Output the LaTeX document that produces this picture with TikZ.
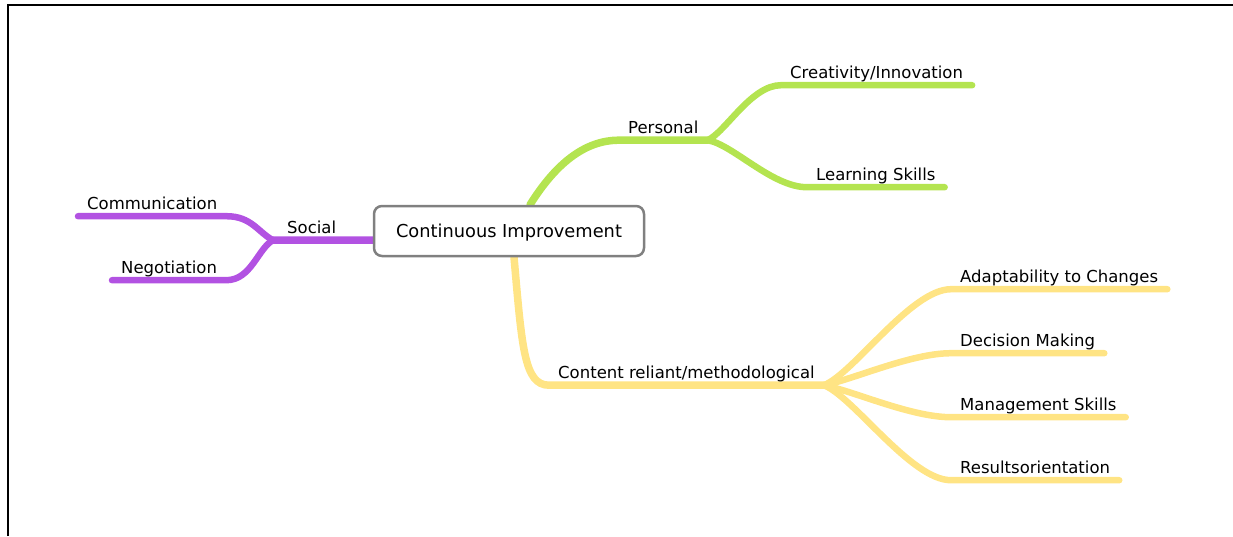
\documentclass[tikz,border=0pt]{standalone}
\usepackage{fontspec}
\setmainfont{DejaVu Sans}
\usetikzlibrary{backgrounds}
\definecolor{mmgreen}{RGB}{180,228,80}
\definecolor{mmpurple}{RGB}{178,82,226}
\definecolor{mmyellow}{RGB}{255,228,132}
\definecolor{mmgray}{RGB}{128,128,128}
\tikzset{
	x=1pt, y=-1pt, % one unit is one pixel, y grows downwards
	root/.style={draw=mmgray, line width=2.5pt, rounded corners=8pt, fill=white, text depth=0pt,
		minimum width=270pt, minimum height=50pt, font=\fontsize{17.8}{20}\selectfont}, % the central idea
	topic/.style={anchor=base west, inner xsep=9pt, inner ysep=7pt, text depth=0pt,
		font=\fontsize{16.5}{19}\selectfont}, % label sitting on its branch
	branch/.style={line width=6.5pt, line cap=round}, % the coloured lines
	trunk/.style={branch, line width=7.5pt}, % first level lines are a bit thicker
}
\begin{document}
\begin{tikzpicture}
	\useasboundingbox (0,0) rectangle (1233,536);
	\draw[line width=2pt] (8,536) -- (8,5) -- (1233,5);

	\node[root] (root) at (509,231) {Continuous Improvement};
	% left side
	\node[topic, inner xsep=14pt] (social) at (273,233) {Social};
	\node[topic] (comm) at (78,209) {Communication};
	\node[topic] (nego) at (112,273) {Negotiation};
	% upper right
	\node[topic] (pers) at (619,133) {Personal};
	\node[topic] (crea) at (781,78) {Creativity/Innovation};
	\node[topic] (learn) at (807,180) {Learning Skills};
	% lower right
	\node[topic] (cont) at (549,378) {Content reliant/methodological};
	\node[topic] (adapt) at (951,282) {Adaptability to Changes};
	\node[topic] (deci) at (951,346) {Decision Making};
	\node[topic] (mana) at (951,410) {Management Skills};
	\node[topic] (resu) at (951,473) {Resultsorientation};

	\begin{scope}[on background layer]
		\draw[trunk, mmpurple] ([yshift=-9pt]root.west) -- (social.south west);
		\draw[branch, mmpurple] (social.south west) .. controls +(-15,-8) and +(25,0) .. (comm.south east) -- (comm.south west);
		\draw[branch, mmpurple] (social.south west) .. controls +(-15,8) and +(25,0) .. (nego.south east) -- (nego.south west);

		\draw[trunk, mmgreen] ([xshift=21pt]root.north) .. controls +(25,-40) and +(-35,0) .. (pers.south west) -- (pers.south east);
		\draw[branch, mmgreen] (pers.south east) .. controls +(18,-8) and +(-30,0) .. (crea.south west) -- (crea.south east);
		\draw[branch, mmgreen] (pers.south east) .. controls +(25,4) and +(-35,0) .. (learn.south west) -- (learn.south east);

		\draw[trunk, mmyellow] ([xshift=5pt]root.south) .. controls +(8,90) and +(-25,0) .. (cont.south west) -- (cont.south east);
		\foreach \c/\d in {adapt/-12, deci/-6, mana/6, resu/12}
			\draw[branch, mmyellow] (cont.south east) .. controls +(30,\d) and +(-40,0) .. (\c.south west) -- (\c.south east);
	\end{scope}
\end{tikzpicture}
\end{document}
